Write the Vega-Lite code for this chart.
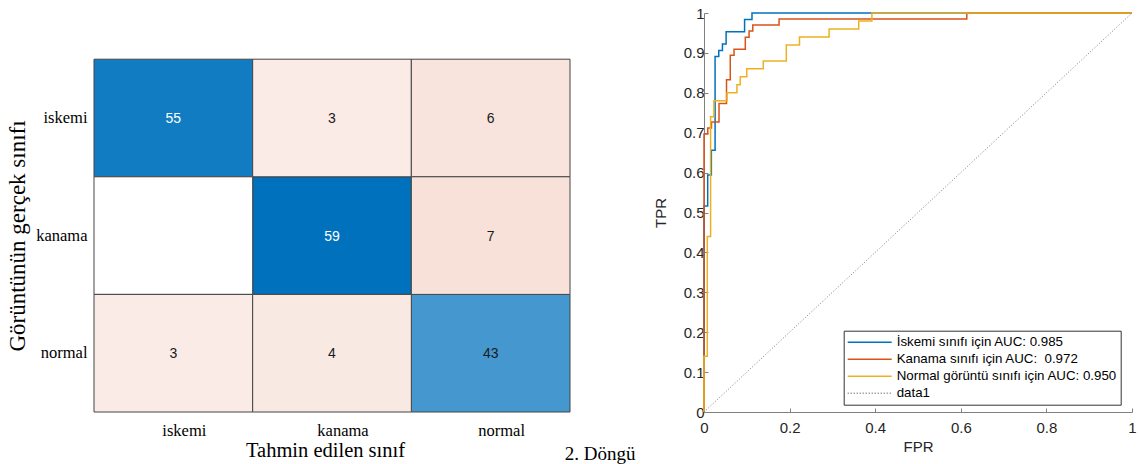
{
  "$schema": "https://vega.github.io/schema/vega-lite/v6.json",
  "padding": {"left": 6, "top": 6, "right": 5, "bottom": 5},
  "background": "white",
  "config": {"view": {"stroke": null}, "font": "Liberation Sans"},
  "datasets": {
    "cm": [
      {"actual": "iskemi", "predicted": "iskemi", "count": 55},
      {"actual": "iskemi", "predicted": "kanama", "count": 3},
      {"actual": "iskemi", "predicted": "normal", "count": 6},
      {"actual": "kanama", "predicted": "iskemi", "count": 0},
      {"actual": "kanama", "predicted": "kanama", "count": 59},
      {"actual": "kanama", "predicted": "normal", "count": 7},
      {"actual": "normal", "predicted": "iskemi", "count": 3},
      {"actual": "normal", "predicted": "kanama", "count": 4},
      {"actual": "normal", "predicted": "normal", "count": 43}
    ],
    "roc": [
      {"series": "İskemi sınıfı için AUC: 0.985", "i": 0, "fpr": 0, "tpr": 0},
      {"series": "İskemi sınıfı için AUC: 0.985", "i": 1, "fpr": 0, "tpr": 0.516},
      {"series": "İskemi sınıfı için AUC: 0.985", "i": 2, "fpr": 0.0086, "tpr": 0.594},
      {"series": "İskemi sınıfı için AUC: 0.985", "i": 3, "fpr": 0.0172, "tpr": 0.656},
      {"series": "İskemi sınıfı için AUC: 0.985", "i": 4, "fpr": 0.0259, "tpr": 0.891},
      {"series": "İskemi sınıfı için AUC: 0.985", "i": 5, "fpr": 0.0345, "tpr": 0.906},
      {"series": "İskemi sınıfı için AUC: 0.985", "i": 6, "fpr": 0.0431, "tpr": 0.922},
      {"series": "İskemi sınıfı için AUC: 0.985", "i": 7, "fpr": 0.0517, "tpr": 0.953},
      {"series": "İskemi sınıfı için AUC: 0.985", "i": 8, "fpr": 0.0948, "tpr": 0.984},
      {"series": "İskemi sınıfı için AUC: 0.985", "i": 9, "fpr": 0.1121, "tpr": 1},
      {"series": "İskemi sınıfı için AUC: 0.985", "i": 10, "fpr": 1, "tpr": 1},
      {"series": "Kanama sınıfı için AUC: \u00a00.972", "i": 0, "fpr": 0, "tpr": 0},
      {"series": "Kanama sınıfı için AUC: \u00a00.972", "i": 1, "fpr": 0, "tpr": 0.697},
      {"series": "Kanama sınıfı için AUC: \u00a00.972", "i": 2, "fpr": 0.0088, "tpr": 0.712},
      {"series": "Kanama sınıfı için AUC: \u00a00.972", "i": 3, "fpr": 0.0175, "tpr": 0.727},
      {"series": "Kanama sınıfı için AUC: \u00a00.972", "i": 4, "fpr": 0.0351, "tpr": 0.773},
      {"series": "Kanama sınıfı için AUC: \u00a00.972", "i": 5, "fpr": 0.0526, "tpr": 0.833},
      {"series": "Kanama sınıfı için AUC: \u00a00.972", "i": 6, "fpr": 0.0614, "tpr": 0.894},
      {"series": "Kanama sınıfı için AUC: \u00a00.972", "i": 7, "fpr": 0.0702, "tpr": 0.909},
      {"series": "Kanama sınıfı için AUC: \u00a00.972", "i": 8, "fpr": 0.0965, "tpr": 0.939},
      {"series": "Kanama sınıfı için AUC: \u00a00.972", "i": 9, "fpr": 0.1053, "tpr": 0.955},
      {"series": "Kanama sınıfı için AUC: \u00a00.972", "i": 10, "fpr": 0.114, "tpr": 0.97},
      {"series": "Kanama sınıfı için AUC: \u00a00.972", "i": 11, "fpr": 0.1754, "tpr": 0.985},
      {"series": "Kanama sınıfı için AUC: \u00a00.972", "i": 12, "fpr": 0.614, "tpr": 1},
      {"series": "Kanama sınıfı için AUC: \u00a00.972", "i": 13, "fpr": 1, "tpr": 1},
      {"series": "Normal görüntü sınıfı için AUC: 0.950", "i": 0, "fpr": 0, "tpr": 0},
      {"series": "Normal görüntü sınıfı için AUC: 0.950", "i": 1, "fpr": 0, "tpr": 0.14},
      {"series": "Normal görüntü sınıfı için AUC: 0.950", "i": 2, "fpr": 0.0077, "tpr": 0.44},
      {"series": "Normal görüntü sınıfı için AUC: 0.950", "i": 3, "fpr": 0.0154, "tpr": 0.74},
      {"series": "Normal görüntü sınıfı için AUC: 0.950", "i": 4, "fpr": 0.0231, "tpr": 0.78},
      {"series": "Normal görüntü sınıfı için AUC: 0.950", "i": 5, "fpr": 0.0538, "tpr": 0.8},
      {"series": "Normal görüntü sınıfı için AUC: 0.950", "i": 6, "fpr": 0.0769, "tpr": 0.82},
      {"series": "Normal görüntü sınıfı için AUC: 0.950", "i": 7, "fpr": 0.0846, "tpr": 0.84},
      {"series": "Normal görüntü sınıfı için AUC: 0.950", "i": 8, "fpr": 0.1, "tpr": 0.86},
      {"series": "Normal görüntü sınıfı için AUC: 0.950", "i": 9, "fpr": 0.1385, "tpr": 0.88},
      {"series": "Normal görüntü sınıfı için AUC: 0.950", "i": 10, "fpr": 0.1923, "tpr": 0.92},
      {"series": "Normal görüntü sınıfı için AUC: 0.950", "i": 11, "fpr": 0.2231, "tpr": 0.94},
      {"series": "Normal görüntü sınıfı için AUC: 0.950", "i": 12, "fpr": 0.2923, "tpr": 0.96},
      {"series": "Normal görüntü sınıfı için AUC: 0.950", "i": 13, "fpr": 0.3615, "tpr": 0.98},
      {"series": "Normal görüntü sınıfı için AUC: 0.950", "i": 14, "fpr": 0.3923, "tpr": 1},
      {"series": "Normal görüntü sınıfı için AUC: 0.950", "i": 15, "fpr": 1, "tpr": 1},
      {"series": "data1", "i": 0, "fpr": 0, "tpr": 0},
      {"series": "data1", "i": 1, "fpr": 1, "tpr": 1}
    ]
  },
  "bounds": "flush",
  "spacing": 134,
  "resolve": {"scale": {"color": "independent", "strokeDash": "independent", "fill": "independent"}, "legend": {"color": "independent", "strokeDash": "independent"}},
  "hconcat": [
    {
      "width": 476,
      "height": 399,
      "data": {"name": "cm"},
      "title": {"text": "2. Döngü", "orient": "bottom", "anchor": "end", "dx": 65, "offset": -16, "font": "Liberation Serif", "fontSize": 19, "fontWeight": "normal", "color": "black"},
      "encoding": {
        "x": {
          "field": "predicted", "type": "nominal", "sort": ["iskemi", "kanama", "normal"],
          "scale": {"paddingInner": 0, "paddingOuter": 0},
          "axis": {"title": "Tahmin edilen sınıf", "orient": "bottom", "labelAngle": 0, "domain": false, "ticks": false,
                   "labelFont": "Liberation Serif", "labelFontSize": 16.5, "labelColor": "black", "labelPadding": 10, "labelOffset": 11,
                   "titleFont": "Liberation Serif", "titleFontSize": 20.5, "titleFontWeight": "normal", "titleColor": "black", "titlePadding": 2,
                   "titleX": 231, "titleAlign": "center"}
        },
        "y": {
          "field": "actual", "type": "nominal", "sort": ["iskemi", "kanama", "normal"],
          "scale": {"paddingInner": 0, "paddingOuter": 0.1964, "align": 1},
          "axis": {"title": "Görüntünün gerçek sınıfı", "domain": false, "ticks": false,
                   "labelFont": "Liberation Serif", "labelFontSize": 16.5, "labelColor": "black", "labelPadding": 7,
                   "titleFont": "Liberation Serif", "titleFontSize": 23, "titleFontWeight": "normal", "titleColor": "black",
                   "titleX": -65, "titleY": 222.5, "titleAngle": 270, "titleBaseline": "bottom", "titleAlign": "center"}
        }
      },
      "layer": [
        {
          "transform": [{"filter": "datum.actual == datum.predicted"}],
          "mark": {"type": "rect", "stroke": "#444444", "strokeWidth": 1},
          "encoding": {"fill": {"field": "count", "type": "quantitative", "scale": {"domain": [0, 59], "range": ["#ffffff", "#0072BD"], "interpolate": "rgb"}, "legend": null}}
        },
        {
          "transform": [{"filter": "datum.actual != datum.predicted"}],
          "mark": {"type": "rect", "stroke": "#444444", "strokeWidth": 1},
          "encoding": {"fill": {"field": "count", "type": "quantitative", "scale": {"domain": [0, 3, 7], "range": ["#ffffff", "#faebe6", "#f7e1d9"], "interpolate": "rgb"}, "legend": null}}
        },
        {
          "transform": [{"filter": "datum.count > 0"}],
          "mark": {"type": "text", "font": "Liberation Sans", "fontSize": 14, "dy": 1},
          "encoding": {
            "text": {"field": "count", "type": "quantitative"},
            "color": {"condition": {"test": "datum.count > 50", "value": "white"}, "value": "#1a1a1a"}
          }
        }
      ],
      "resolve": {"scale": {"fill": "independent"}}
    },
    {
      "width": 428,
      "height": 399,
      "data": {"name": "roc"},
      "encoding": {
        "x": {
          "field": "fpr", "type": "quantitative", "scale": {"domain": [0, 1], "nice": false},
          "axis": {"title": "FPR", "values": [0, 0.2, 0.4, 0.6, 0.8, 1], "format": "~g", "grid": false,
                   "domainColor": "#808080", "tickColor": "#808080", "tickSize": -4, "labelOverlap": false, "labelFlush": false,
                   "labelFont": "Liberation Sans", "labelFontSize": 15, "labelColor": "#262626", "labelPadding": 12,
                   "titleFont": "Liberation Sans", "titleFontSize": 15, "titleFontWeight": "normal", "titleColor": "#262626", "titlePadding": 4}
        },
        "y": {
          "field": "tpr", "type": "quantitative", "scale": {"domain": [0, 1], "nice": false},
          "axis": {"title": "TPR", "values": [0, 0.1, 0.2, 0.3, 0.4, 0.5, 0.6, 0.7, 0.8, 0.9, 1], "format": "~g", "grid": false,
                   "domainColor": "#808080", "tickColor": "#808080", "tickSize": -4, "labelOverlap": false, "labelFlush": false,
                   "labelFont": "Liberation Sans", "labelFontSize": 15, "labelColor": "#262626", "labelPadding": 4,
                   "titleFont": "Liberation Sans", "titleFontSize": 15, "titleFontWeight": "normal", "titleColor": "#262626", "titlePadding": 15}
        },
        "order": {"field": "i", "type": "quantitative"},
        "color": {
          "field": "series", "type": "nominal",
          "scale": {"domain": ["İskemi sınıfı için AUC: 0.985", "Kanama sınıfı için AUC: \u00a00.972", "Normal görüntü sınıfı için AUC: 0.950", "data1"],
                    "range": ["#0072BD", "#D95319", "#EDB120", "#7a7a7a"]},
          "legend": {"title": null, "orient": "none", "legendX": 139.7, "legendY": 317.7, "symbolType": "stroke", "symbolSize": 1936,
                     "symbolStrokeWidth": 1.5, "clipHeight": 17, "rowPadding": 0, "padding": 3, "labelFont": "Liberation Sans",
                     "labelFontSize": 13.3, "labelColor": "black", "labelOffset": 4, "strokeColor": "#333333", "fillColor": "white", "labelLimit": 400}
        },
        "strokeDash": {
          "field": "series", "type": "nominal",
          "scale": {"domain": ["İskemi sınıfı için AUC: 0.985", "Kanama sınıfı için AUC: \u00a00.972", "Normal görüntü sınıfı için AUC: 0.950", "data1"],
                    "range": [[1, 0], [1, 0], [1, 0], [1, 2]]}
        }
      },
      "layer": [
        {
          "transform": [{"filter": "datum.series != 'data1'"}],
          "mark": {"type": "line", "interpolate": "step-after", "strokeWidth": 1.5}
        },
        {
          "transform": [{"filter": "datum.series == 'data1'"}],
          "mark": {"type": "line", "strokeWidth": 1}
        }
      ]
    }
  ]
}
